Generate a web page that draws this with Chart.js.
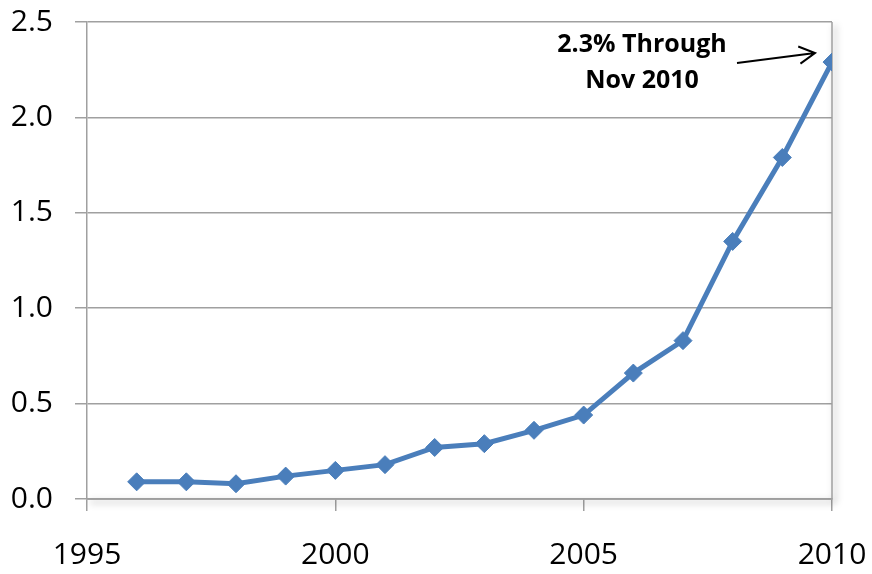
<!DOCTYPE html>
<html>
<head>
  <title>Growth through Nov 2010</title>
  <style>
    body { margin: 0; background: #ffffff; }
    #wrap { width: 872px; height: 574px; }
  </style>
</head>
<body>
  <div id="wrap"><canvas id="chart" width="872" height="574"></canvas></div>

  <script src="https://cdn.jsdelivr.net/npm/chart.js"></script>
  <script>
    const years = [1996, 1997, 1998, 1999, 2000, 2001, 2002, 2003, 2004, 2005, 2006, 2007, 2008, 2009, 2010];
    const values = [0.09, 0.09, 0.08, 0.12, 0.15, 0.18, 0.27, 0.29, 0.36, 0.44, 0.66, 0.83, 1.35, 1.79, 2.29];
    const xTicks = [1995, 2000, 2005, 2010];
    const yTicks = [0.0, 0.5, 1.0, 1.5, 2.0, 2.5];
    const noteLines = ['2.3% Through', 'Nov 2010'];

    const points = years.map((yr, i) => ({ x: yr, y: values[i] }));

    // plot border with a soft shadow, plus the arrow note
    const frame = {
      id: 'frame',
      beforeDatasetsDraw(chart) {
        const { ctx, chartArea: a } = chart;
        ctx.save();
        ctx.shadowColor = 'rgba(0,0,0,0.4)';
        ctx.shadowBlur = 7;
        ctx.shadowOffsetX = 3;
        ctx.shadowOffsetY = 3;
        ctx.strokeStyle = '#a0a0a0';
        ctx.lineWidth = 1.5;
        ctx.beginPath();
        ctx.moveTo(a.left, a.bottom);
        ctx.lineTo(a.right, a.bottom);
        ctx.lineTo(a.right, a.top);
        ctx.stroke();
        ctx.restore();
      },
      afterDraw(chart) {
        const { ctx } = chart;
        const xs = chart.scales.x, ys = chart.scales.y;
        const last = points[points.length - 1];
        const px = xs.getPixelForValue(last.x);
        const py = ys.getPixelForValue(last.y);
        ctx.save();
        ctx.fillStyle = '#000';
        ctx.font = 'bold 25px "Open Sans"';
        ctx.textAlign = 'center';
        ctx.textBaseline = 'middle';
        ctx.fillText(noteLines[0], px - 190, py - 17);
        ctx.fillText(noteLines[1], px - 190, py + 19);
        // arrow
        const x0 = px - 95, y0 = py + 1, x1 = px - 17, y1 = py - 9;
        ctx.strokeStyle = '#000';
        ctx.lineWidth = 2;
        ctx.beginPath();
        ctx.moveTo(x0, y0);
        ctx.lineTo(x1, y1);
        const ang = Math.atan2(y1 - y0, x1 - x0);
        ctx.moveTo(x1 - 18 * Math.cos(ang - 0.5), y1 - 18 * Math.sin(ang - 0.5));
        ctx.lineTo(x1, y1);
        ctx.lineTo(x1 - 18 * Math.cos(ang + 0.5), y1 - 18 * Math.sin(ang + 0.5));
        ctx.stroke();
        ctx.restore();
      }
    };

    new Chart(document.getElementById('chart'), {
      type: 'line',
      data: {
        datasets: [{
          data: points,
          borderColor: '#4a7ebb',
          backgroundColor: '#4a7ebb',
          borderWidth: 5,
          pointStyle: 'rectRot',
          pointRadius: 9,
          pointHoverRadius: 9,
          pointBorderWidth: 1,
          fill: false,
          tension: 0
        }]
      },
      options: {
        responsive: false,
        animation: false,
        layout: { padding: { top: 22, right: 40, left: 0, bottom: 0 } },
        plugins: { legend: { display: false }, tooltip: { enabled: false } },
        scales: {
          x: {
            type: 'linear',
            min: 1995,
            max: 2010,
            afterBuildTicks: s => { s.ticks = xTicks.map(v => ({ value: v })); },
            afterFit: s => { s.height = 75; s.paddingLeft = 0; s.paddingRight = 0; },
            ticks: {
              color: '#000',
              font: { family: 'Open Sans', size: 30 },
              padding: 26,
              maxRotation: 0,
              callback: v => String(v)
            },
            grid: { drawOnChartArea: false, tickLength: 12, color: '#a0a0a0', lineWidth: 1.5 },
            border: { color: '#a0a0a0', width: 1.5 }
          },
          y: {
            min: 0,
            max: 2.5,
            afterBuildTicks: s => { s.ticks = yTicks.map(v => ({ value: v })); },
            afterFit: s => { s.width = 87; s.paddingTop = 0; s.paddingBottom = 0; },
            ticks: {
              color: '#000',
              font: { family: 'Open Sans', size: 30 },
              padding: 22,
              callback: v => v.toFixed(1)
            },
            grid: { tickLength: 12, color: '#a0a0a0', lineWidth: 1.5 },
            border: { color: '#a0a0a0', width: 1.5 }
          }
        }
      },
      plugins: [frame]
    });
  </script>
</body>
</html>
